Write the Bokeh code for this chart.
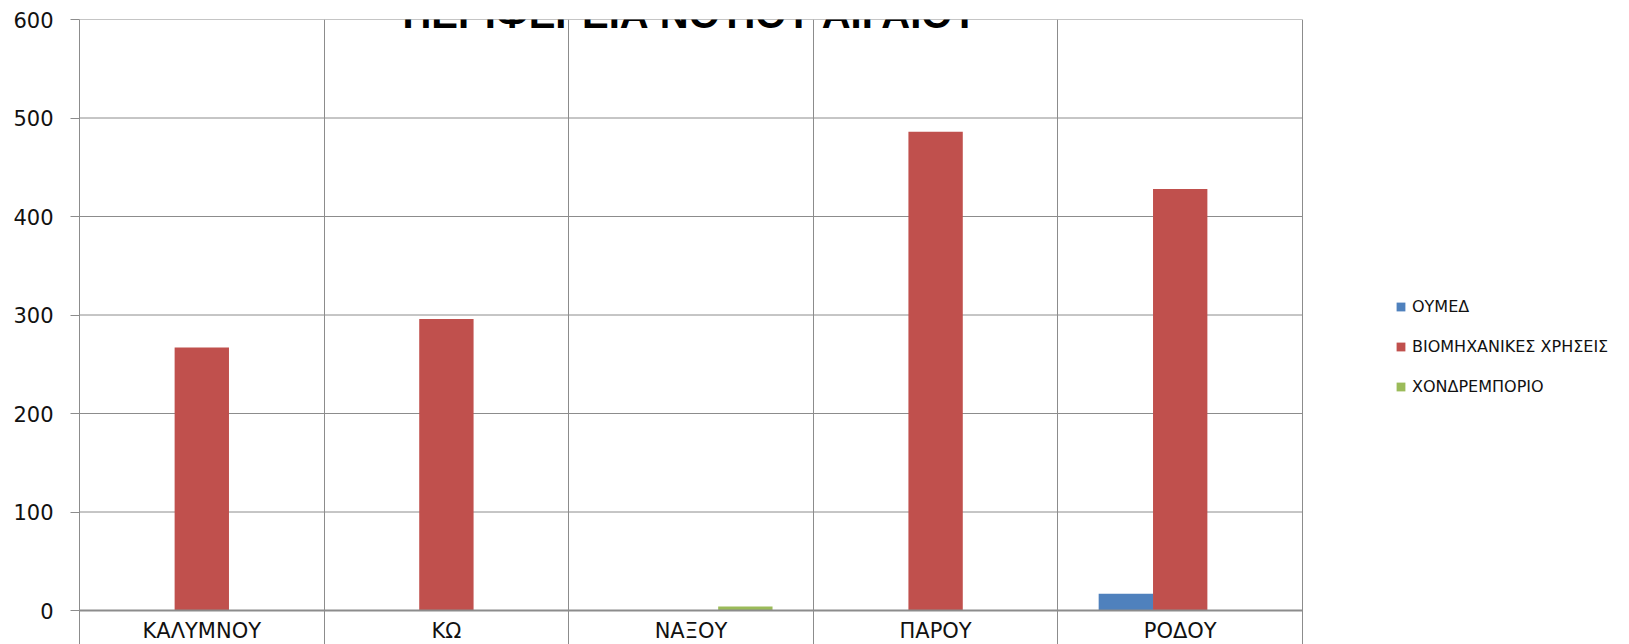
from bokeh.plotting import figure
from bokeh.models import (Range1d, FixedTicker, Grid, Label, Legend, LegendItem,
                          ColumnDataSource)
from bokeh.embed import file_html
from bokeh.resources import INLINE

# ---- data ----
title_text = "ΠΕΡΙΦΕΡΕΙΑ ΝΟΤΙΟΥ ΑΙΓΑΙΟΥ"
categories = ["ΚΑΛΥΜΝΟΥ", "ΚΩ", "ΝΑΞΟΥ", "ΠΑΡΟΥ", "ΡΟΔΟΥ"]
series_names = ["ΟΥΜΕΔ", "ΒΙΟΜΗΧΑΝΙΚΕΣ ΧΡΗΣΕΙΣ", "ΧΟΝΔΡΕΜΠΟΡΙΟ"]
oumed = [0, 0, 0, 0, 17]
viomichanikes = [267, 296, 0, 486, 428]
chondremporio = [0, 0, 4, 0, 0]
y_ticks = [0, 100, 200, 300, 400, 500, 600]
colors = ["#4F81BD", "#C0504D", "#9BBB59"]

series_values = [oumed, viomichanikes, chondremporio]
n = len(categories)
centers = [i + 0.5 for i in range(n)]
bar_w = 1 / 4.5
offsets = [-bar_w, 0.0, bar_w]

FONT = "DejaVu Sans"
GRID = "#8c8c8c"

# plot area of the categories is 1223px wide; the frame continues to the right edge
# (1550px) so the legend can sit inside it
x_end = n * 1550 / 1223

p = figure(width=1629, height=644, output_backend="svg", toolbar_location=None,
           x_range=Range1d(0, x_end), y_range=Range1d(-34.5, 600),
           x_axis_location=None, min_border_left=79, min_border_right=0,
           min_border_top=19, min_border_bottom=0, tools="")
p.outline_line_color = None
p.background_fill_color = "white"
p.border_fill_color = "white"
p.xgrid.visible = False
p.ygrid.visible = False

# y axis
ax = p.yaxis[0]
ax.ticker = FixedTicker(ticks=y_ticks)
ax.axis_line_color = GRID
ax.major_tick_line_color = GRID
ax.major_tick_out = 9
ax.major_tick_in = 0
ax.minor_tick_line_color = None
ax.major_label_standoff = 17
ax.major_label_text_font = FONT
ax.major_label_text_font_size = "21px"
ax.major_label_text_color = "#111111"

# horizontal gridlines across the category area only
grid_y = y_ticks[1:]
p.segment(x0=[0] * len(grid_y), x1=[n] * len(grid_y), y0=grid_y, y1=grid_y,
          line_color=GRID, line_width=1)

xgrid = Grid(dimension=0, ticker=FixedTicker(ticks=list(range(n + 1))),
             grid_line_color=GRID, grid_line_width=1)
p.add_layout(xgrid)

renderers = []
for vals, off, col in zip(series_values, offsets, colors):
    src = ColumnDataSource(dict(x=[c + off for c in centers], top=vals))
    r = p.vbar(x="x", top="top", bottom=0, width=bar_w, source=src,
               fill_color=col, line_color=None)
    renderers.append(r)

# zero line
p.segment(x0=[0], x1=[n], y0=[y_ticks[0]], y1=[y_ticks[0]], line_color=GRID, line_width=2)

# category labels
lsrc = ColumnDataSource(dict(x=centers, y=[0] * n, t=categories))
p.text(x="x", y="y", text="t", source=lsrc, text_align="center",
       text_baseline="alphabetic", y_offset=20, text_font_size="21px",
       text_font={"value": FONT}, text_color="#111111")

# title
p.add_layout(Label(x=n / 2, y=600, text=title_text, text_align="center",
                   text_baseline="alphabetic", y_offset=6,
                   text_font="Liberation Sans", text_font_style="bold",
                   text_font_size="40px", text_color="#000000"))

legend = Legend(items=[LegendItem(label=nm, renderers=[r]) for nm, r in zip(series_names, renderers)],
                location=(1316, 248), glyph_width=11, glyph_height=11, label_standoff=6,
                spacing=20, label_height=20, padding=0, margin=0,
                border_line_color=None, background_fill_alpha=0,
                label_text_font=FONT, label_text_font_size="16px", label_text_color="#111111")
p.add_layout(legend, "center")

open("out.html", "w").write(file_html(p, INLINE))
